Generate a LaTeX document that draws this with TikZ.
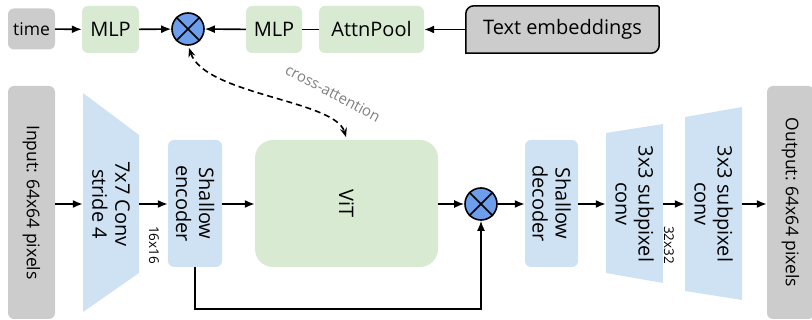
\documentclass[tikz,border=0pt]{standalone}
\usepackage{fontspec}
\setmainfont{Open Sans}
\usetikzlibrary{arrows.meta,backgrounds}
\definecolor{boxgray}{HTML}{CCCCCC}
\definecolor{boxgreen}{HTML}{D9EAD3}
\definecolor{boxblue}{HTML}{CFE2F3}
\definecolor{opblue}{HTML}{6D9EEB}
\definecolor{labgray}{HTML}{808080}
\tikzset{
  every node/.style={font=\fontsize{20}{23}\selectfont, inner sep=0pt, align=center},
  graybox/.style={fill=boxgray, rounded corners=6pt, font=\fontsize{17.5}{21}\selectfont},
  greenbox/.style={fill=boxgreen, rounded corners=6pt},
  bluebox/.style={fill=boxblue, rounded corners=6pt},
  vitbox/.style={fill=boxgreen, rounded corners=18pt},
  opnode/.style={circle, draw=black, line width=1.6pt, fill=opblue, minimum size=32pt},
  conn/.style={line width=1.6pt, -{Latex[length=10pt,width=8pt]}},
  plain/.style={line width=1.6pt},
  trap/.style={fill=boxblue},
  smalllab/.style={font=\fontsize{13.5}{15}\selectfont, rotate=-90},
  vtext/.style={rotate=-90},
  graytext/.style={rotate=-90, font=\fontsize{17.5}{21}\selectfont},
}
\newcommand{\crossop}[1]{\draw[line width=1.6pt] (#1.north west) -- (#1.south east) (#1.north east) -- (#1.south west);}
\begin{document}
\begin{tikzpicture}[x=1pt,y=-1pt]
\useasboundingbox (0,0) rectangle (812,320);
% ---------- top row ----------
\node[graybox, minimum width=47pt, minimum height=41pt] (time) at (31.5,29) {time};
\node[greenbox, minimum width=57pt, minimum height=47pt] (mlp1) at (110.5,29.5) {MLP};
\node[opnode] (c1) at (188,29) {};
\crossop{c1}
\node[greenbox, minimum width=56pt, minimum height=47pt] (mlp2) at (274,29.5) {MLP};
\node[greenbox, minimum width=105pt, minimum height=47pt] (attn) at (371.5,29.5) {AttnPool};
\node[minimum width=193pt, minimum height=47pt] (text) at (562.5,29.5) {Text embeddings};
\begin{scope}[on background layer]
\draw[fill=boxgray, line width=1.5pt] (text.south west) -- ([yshift=-8pt]text.north west) arc[start angle=180, end angle=90, radius=8pt] -- ([xshift=-2pt]text.north east) arc[start angle=90, end angle=0, radius=2pt] -- ([yshift=8pt]text.south east) arc[start angle=0, end angle=-90, radius=8pt] -- cycle;
\end{scope}
\draw[conn] (time) -- (mlp1);
\draw[conn] (mlp1) -- (c1);
\draw[conn] (mlp2) -- (c1);
\draw[plain] (attn) -- (mlp2);
\draw[conn] (text) -- (attn);
% ---------- bottom row ----------
\node[graybox, minimum width=47pt, minimum height=233pt] (in) at (31.5,202.5) {};
\node[graytext] (intext) at (in.center) {Input: 64x64 pixels};
\fill[trap] (83,93) -- (139,135) -- (139,273) -- (83,312) -- cycle;
\node[minimum width=56pt, minimum height=138pt] (conv) at (111,204) {};
\node[vtext] (convtext) at (conv.center) {7x7 Conv\\stride 4};
\node[smalllab] (l16) at (154,245) {16x16};
\node[bluebox, minimum width=54pt, minimum height=127pt] (enc) at (195,203.5) {};
\node[vtext] (enctext) at (enc.center) {Shallow\\encoder};
\node[vitbox, minimum width=183pt, minimum height=127pt] (vit) at (346.5,203.5) {};
\node[vtext] (vittext) at (vit.center) {ViT};
\node[opnode] (c2) at (481,204) {};
\crossop{c2}
\node[bluebox, minimum width=53pt, minimum height=127pt] (dec) at (551.5,203.5) {};
\node[vtext] (dectext) at (dec.center) {Shallow\\decoder};
\fill[trap] (606,133) -- (663,124) -- (663,283) -- (606,273) -- cycle;
\node[minimum width=57pt, minimum height=140pt] (sub1) at (634.5,204) {};
\node[vtext] (sub1text) at (sub1.center) {3x3 subpixel\\conv};
\node[smalllab] (l32) at (669,245) {32x32};
\fill[trap] (685,117) -- (742,107) -- (742,300) -- (685,291) -- cycle;
\node[minimum width=57pt, minimum height=174pt] (sub2) at (713.5,204) {};
\node[vtext] (sub2text) at (sub2.center) {3x3 subpixel\\conv};
\node[graybox, minimum width=47pt, minimum height=233pt] (out) at (790.5,202.5) {};
\node[graytext] (outtext) at (out.center) {Output: 64x64 pixels};
% connectors
\draw[conn] (in.east |- 0,204) -- (conv.west);
\draw[conn] (conv.east) -- (enc.west |- conv.east);
\draw[conn] (enc.east |- conv.east) -- (vit.west |- conv.east);
\draw[conn] (vit.east |- c2) -- (c2);
\draw[conn] (c2) -- (dec.west |- c2);
\draw[conn] (dec.east |- c2) -- (sub1.west);
\draw[conn] (sub1.east) -- (sub2.west);
\draw[conn] (sub2.east) -- (out.west |- sub2.east);
\coordinate (skip) at (195,309);
\draw[conn] (enc.south) -- (skip) -- (c2.south |- skip) -- (c2.south);
% cross attention
\coordinate (catop) at (189,48);
\coordinate (vittop) at (346,137);
\draw[line width=1.6pt, dash pattern=on 6pt off 4pt, {Stealth[length=9pt,width=7pt]}-{Stealth[length=9pt,width=7pt]}] (catop) .. controls (205,95) and (335,100) .. (vittop);
\node[font=\fontsize{15}{17}\selectfont, text=labgray, rotate=-28] (ca) at (333,93) {cross-attention};
\end{tikzpicture}
\end{document}
